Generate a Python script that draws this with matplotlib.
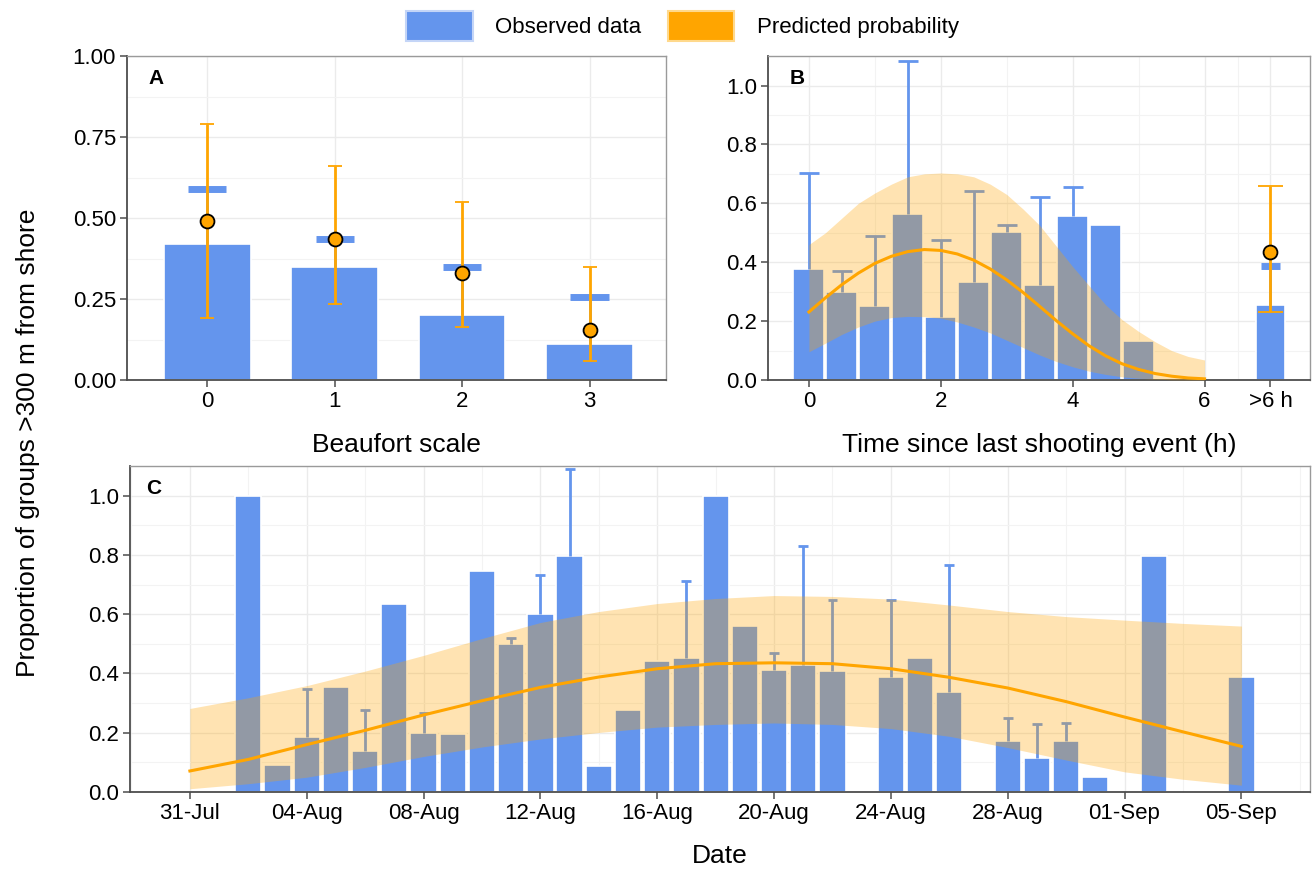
import numpy as np
import pandas as pd
import matplotlib
matplotlib.use("Agg")
import matplotlib.pyplot as plt
import matplotlib.dates as mdates
from matplotlib.patches import Patch
from matplotlib.ticker import MultipleLocator

plt.rcParams['font.family'] = ['Liberation Sans', 'DejaVu Sans']

BLUE = "#6495ED"
ORANGE = "#FFA500"

# ---- panel A: Beaufort scale
beaufort = [0, 1, 2, 3]
beaufort_obs = [0.42, 0.35, 0.20, 0.11]
beaufort_obs_hi = [0.59, 0.435, 0.35, 0.255]
beaufort_pred = [0.49, 0.435, 0.33, 0.155]
beaufort_pred_lo = [0.19, 0.235, 0.165, 0.06]
beaufort_pred_hi = [0.79, 0.66, 0.55, 0.35]

# ---- panel B: time since last shooting (h), >6 h plotted at 7
shoot_t = [0, 0.5, 1.0, 1.5, 2.0, 2.5, 3.0, 3.5, 4.0, 4.5, 5.0]
shoot_obs = [0.377, 0.30, 0.253, 0.562, 0.215, 0.332, 0.502, 0.323, 0.557, 0.525, 0.134]
shoot_obs_hi = [0.704, 0.37, 0.49, 1.083, 0.475, 0.643, 0.525, 0.623, 0.655, None, None]
late_obs, late_obs_hi = 0.254, 0.386
late_pred, late_pred_lo, late_pred_hi = 0.433, 0.232, 0.659

curve_t = [0, 0.25, 0.5, 0.75, 1.0, 1.25, 1.5, 1.75, 2.0, 2.25, 2.5, 2.75, 3.0,
           3.25, 3.5, 3.75, 4.0, 4.25, 4.5, 4.75, 5.0, 5.25, 5.5, 5.75, 6.0]
curve_fit = [0.231, 0.279, 0.324, 0.363, 0.396, 0.420, 0.436, 0.443, 0.440, 0.428,
             0.407, 0.377, 0.340, 0.297, 0.250, 0.202, 0.157, 0.116, 0.082, 0.055,
             0.036, 0.022, 0.013, 0.007, 0.004]
curve_hi = [0.46, 0.50, 0.55, 0.60, 0.635, 0.665, 0.69, 0.70, 0.703, 0.70, 0.69,
            0.665, 0.63, 0.58, 0.525, 0.455, 0.385, 0.32, 0.255, 0.205, 0.165,
            0.13, 0.10, 0.08, 0.068]
curve_lo = [0.096, 0.125, 0.155, 0.18, 0.20, 0.212, 0.216, 0.215, 0.21, 0.197,
            0.18, 0.16, 0.135, 0.11, 0.085, 0.063, 0.045, 0.03, 0.019, 0.011,
            0.006, 0.003, 0.001, 0.0005, 0.0]

# ---- panel C: date
day_dates = ["2019-08-02", "2019-08-03", "2019-08-04", "2019-08-05", "2019-08-06",
             "2019-08-07", "2019-08-08", "2019-08-09", "2019-08-10", "2019-08-11",
             "2019-08-12", "2019-08-13", "2019-08-14", "2019-08-15", "2019-08-16",
             "2019-08-17", "2019-08-18", "2019-08-19", "2019-08-20", "2019-08-21",
             "2019-08-22", "2019-08-24", "2019-08-25", "2019-08-26", "2019-08-28",
             "2019-08-29", "2019-08-30", "2019-08-31", "2019-09-02", "2019-09-05"]
day_obs = [1.0, 0.091, 0.186, 0.353, 0.137, 0.636, 0.199, 0.197, 0.746, 0.501,
           0.600, 0.798, 0.089, 0.278, 0.442, 0.452, 1.0, 0.561, 0.412, 0.43,
           0.41, 0.388, 0.452, 0.339, 0.172, 0.114, 0.172, 0.05, 0.797, 0.388]
day_obs_hi = [None, None, 0.349, None, 0.277, None, 0.265, None, None, 0.519,
              0.732, 1.089, None, None, None, 0.713, None, None, 0.469, 0.83,
              0.647, 0.647, None, 0.765, 0.251, 0.229, 0.233, None, None, None]

trend_dates = ["2019-07-31", "2019-08-02", "2019-08-04", "2019-08-06", "2019-08-08",
               "2019-08-10", "2019-08-12", "2019-08-14", "2019-08-16", "2019-08-18",
               "2019-08-20", "2019-08-22", "2019-08-24", "2019-08-26", "2019-08-28",
               "2019-08-30", "2019-09-01", "2019-09-03", "2019-09-05"]
trend_fit = [0.071, 0.110, 0.160, 0.208, 0.260, 0.308, 0.353, 0.388, 0.416, 0.433,
             0.436, 0.433, 0.416, 0.387, 0.351, 0.305, 0.253, 0.203, 0.154]
trend_hi = [0.282, 0.318, 0.359, 0.408, 0.461, 0.518, 0.572, 0.609, 0.636, 0.653,
            0.663, 0.660, 0.651, 0.631, 0.609, 0.592, 0.580, 0.569, 0.560]
trend_lo = [0.011, 0.028, 0.050, 0.083, 0.120, 0.152, 0.179, 0.201, 0.219, 0.228,
            0.233, 0.228, 0.214, 0.188, 0.150, 0.108, 0.068, 0.043, 0.023]

TICK_FS = 16
LABEL_FS = 19


def style_axes(ax):
    ax.set_axisbelow(True)
    ax.grid(which='major', color='#EBEBEB', lw=1.0)
    ax.grid(which='minor', color='#F3F3F3', lw=0.8)
    for s in ['top', 'right']:
        ax.spines[s].set_color('#9A9A9A')
        ax.spines[s].set_linewidth(1.0)
    for s in ['left', 'bottom']:
        ax.spines[s].set_color('#4D4D4D')
        ax.spines[s].set_linewidth(1.3)
    ax.tick_params(which='major', labelsize=TICK_FS, length=5, width=1.1,
                   color='#4D4D4D', labelcolor='black', pad=3)
    ax.tick_params(which='minor', length=0)


fig = plt.figure(figsize=(13.12, 8.69), dpi=100)
axA = fig.add_axes([0.0968, 0.5627, 0.4108, 0.3728])
axB = fig.add_axes([0.5854, 0.5627, 0.4131, 0.3728])
axC = fig.add_axes([0.0991, 0.0886, 0.8994, 0.3751])

# ---- A
axA.bar(beaufort, beaufort_obs, width=0.68, color=BLUE, edgecolor='white', lw=1.2)
axA.vlines(beaufort, beaufort_obs, beaufort_obs_hi, color=BLUE, lw=2)
axA.hlines(beaufort_obs_hi, np.array(beaufort) - 0.15, np.array(beaufort) + 0.15,
           color=BLUE, lw=5)
yerr = [np.array(beaufort_pred) - np.array(beaufort_pred_lo),
        np.array(beaufort_pred_hi) - np.array(beaufort_pred)]
axA.errorbar(beaufort, beaufort_pred, yerr=yerr, fmt='o', color=ORANGE, ecolor=ORANGE,
             elinewidth=2, capsize=5, capthick=2, ms=10, mfc=ORANGE, mec='black',
             mew=1.3, zorder=5)
axA.set_xlim(-0.63, 3.6)
axA.set_ylim(0, 1)
axA.set_xticks(beaufort)
axA.set_yticks([0, 0.25, 0.5, 0.75, 1.0])
axA.set_yticklabels(['0.00', '0.25', '0.50', '0.75', '1.00'])
axA.yaxis.set_minor_locator(MultipleLocator(0.125))
axA.set_xlabel('Beaufort scale', fontsize=LABEL_FS, labelpad=15)
style_axes(axA)
axA.text(0.04, 0.93, 'A', transform=axA.transAxes, fontsize=15, fontweight='bold',
         va='center')

# ---- B
axB.bar(shoot_t, shoot_obs, width=0.47, color=BLUE, edgecolor='white', lw=1.2)
axB.bar([7], [late_obs], width=0.45, color=BLUE, edgecolor='white', lw=1.2)
for t, v, hi in zip(shoot_t, shoot_obs, shoot_obs_hi):
    if hi is None:
        continue
    axB.vlines(t, v, hi, color=BLUE, lw=2)
    axB.hlines(hi, t - 0.15, t + 0.15, color=BLUE, lw=2)
axB.vlines(7, late_obs, late_obs_hi, color=BLUE, lw=2)
axB.hlines(late_obs_hi, 7 - 0.15, 7 + 0.15, color=BLUE, lw=5)
axB.fill_between(curve_t, curve_lo, curve_hi, color=ORANGE, alpha=0.3, lw=0, zorder=3)
axB.plot(curve_t, curve_fit, color=ORANGE, lw=2.2, zorder=4)
axB.errorbar([7], [late_pred], yerr=[[late_pred - late_pred_lo], [late_pred_hi - late_pred]],
             fmt='o', color=ORANGE, ecolor=ORANGE, elinewidth=2, capsize=9, capthick=2,
             ms=10, mfc=ORANGE, mec='black', mew=1.3, zorder=5)
axB.set_xlim(-0.62, 7.6)
axB.set_ylim(0, 1.1)
axB.set_xticks([0, 2, 4, 6, 7])
axB.set_xticklabels(['0', '2', '4', '6', '>6 h'])
axB.set_xticks([1, 3, 5, 6.5], minor=True)
axB.set_yticks([0, 0.2, 0.4, 0.6, 0.8, 1.0])
axB.set_yticklabels(['0.0', '0.2', '0.4', '0.6', '0.8', '1.0'])
axB.yaxis.set_minor_locator(MultipleLocator(0.1))
axB.set_xlabel('Time since last shooting event (h)', fontsize=LABEL_FS, labelpad=15)
style_axes(axB)
axB.text(0.04, 0.93, 'B', transform=axB.transAxes, fontsize=15, fontweight='bold',
         va='center')

# ---- C
d_obs = pd.to_datetime(day_dates)
x_obs = mdates.date2num(d_obs)
axC.bar(x_obs, day_obs, width=0.9, color=BLUE, edgecolor='white', lw=1.2)
for x, v, hi in zip(x_obs, day_obs, day_obs_hi):
    if hi is None:
        continue
    axC.vlines(x, v, hi, color=BLUE, lw=2)
    axC.hlines(hi, x - 0.17, x + 0.17, color=BLUE, lw=2)
x_tr = mdates.date2num(pd.to_datetime(trend_dates))
axC.fill_between(x_tr, trend_lo, trend_hi, color=ORANGE, alpha=0.3, lw=0, zorder=3)
axC.plot(x_tr, trend_fit, color=ORANGE, lw=2.2, zorder=4)
x0 = mdates.date2num(pd.Timestamp("2019-07-31"))
x1 = mdates.date2num(pd.Timestamp("2019-09-05"))
axC.set_xlim(x0 - 2.05, x1 + 2.35)
axC.set_ylim(0, 1.1)
axC.set_xticks(np.arange(x0, x1 + 0.5, 4))
axC.set_xticks(np.arange(x0 - 2, x1 + 2.5, 4), minor=True)
axC.xaxis.set_major_formatter(mdates.DateFormatter('%d-%b'))
axC.set_yticks([0, 0.2, 0.4, 0.6, 0.8, 1.0])
axC.set_yticklabels(['0.0', '0.2', '0.4', '0.6', '0.8', '1.0'])
axC.yaxis.set_minor_locator(MultipleLocator(0.1))
axC.set_xlabel('Date', fontsize=LABEL_FS, labelpad=14)
style_axes(axC)
axC.text(0.014, 0.93, 'C', transform=axC.transAxes, fontsize=15, fontweight='bold',
         va='center')

fig.text(0.021, 0.49, 'Proportion of groups >300 m from shore', rotation=90,
         fontsize=LABEL_FS, ha='center', va='center')

handles = [Patch(facecolor=BLUE, edgecolor='#C4D5F7', lw=1.5, label='Observed data'),
           Patch(facecolor=ORANGE, edgecolor='#FFD98C', lw=1.5, label='Predicted probability')]
fig.legend(handles=handles, loc='center', bbox_to_anchor=(0.52, 0.970), ncol=2,
           frameon=False, fontsize=16, handlelength=3.0, handleheight=1.7,
           columnspacing=1.2, handletextpad=1.0)

fig.savefig('out.png', dpi=100)
